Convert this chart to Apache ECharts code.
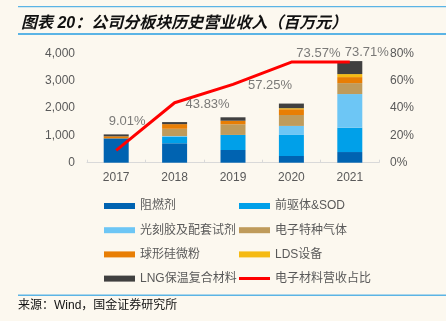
<!DOCTYPE html>
<html><head><meta charset="utf-8">
<script src="https://cdn.jsdelivr.net/npm/echarts@6/dist/echarts.min.js"></script>
<style>html,body{margin:0;padding:0;background:#FCF8EF;}#c{width:446px;height:321px;}</style>
</head><body><div id="c"></div>
<script>
const years = ['2017','2018','2019','2020','2021'];
const flameRetardant = [890, 710, 465, 245, 390];
const precursorSOD = [0, 245, 550, 770, 890];
const photoresist = [0, 20, 0, 330, 1230];
const specialGas = [0, 265, 390, 400, 400];
const silicaPowder = [75, 170, 130, 210, 220];
const ldsEquip = [0, 0, 0, 37, 110];
const lngMaterial = [70, 75, 125, 170, 475];
const electronicRatio = [9.01, 43.83, 57.25, 73.57, 73.71];
const leftTicks = [0, 1000, 2000, 3000, 4000];
const labelOffsets = [[11,-17],[33,13],[37,13],[27,3],[17,2]];

const font = '"Liberation Sans", Arial, "Noto Sans CJK SC", sans-serif';
const cjk = '"Liberation Sans", "Noto Sans CJK SC", sans-serif';
const gray = '#595959';

const barDefs = [
  ['阻燃剂', flameRetardant, '#0063B1'],
  ['前驱体&SOD', precursorSOD, '#00A0E9'],
  ['光刻胶及配套试剂', photoresist, '#6DC6F5'],
  ['电子特种气体', specialGas, '#BF9B5B'],
  ['球形硅微粉', silicaPowder, '#E87E04'],
  ['LDS设备', ldsEquip, '#F5BA14'],
  ['LNG保温复合材料', lngMaterial, '#404040']
];
const series = barDefs.map(d => ({
  name: d[0], type: 'bar', stack: 'rev', data: d[1], barWidth: 25,
  itemStyle: {color: d[2]}, yAxisIndex: 0
}));
series.push({
  name: '电子材料营收占比', type: 'line', yAxisIndex: 1, symbol: 'none',
  lineStyle: {color: '#FF0000', width: 3}, itemStyle: {color: '#FF0000'},
  data: electronicRatio, z: 10
});
series.push({
  name: 'ratioLabels', type: 'scatter', yAxisIndex: 1, symbolSize: 0.1,
  itemStyle: {color: 'rgba(0,0,0,0)'}, silent: true, z: 11,
  data: electronicRatio.map((v, i) => ({
    value: v,
    label: {show: true, position: 'top', offset: labelOffsets[i], distance: 5,
      formatter: v.toFixed(2) + '%', color: gray, fontSize: 13, fontFamily: font}
  }))
});

const legendText = {color: gray, fontSize: 12, fontFamily: cjk};
const chart = echarts.init(document.getElementById('c'));
chart.setOption({
  backgroundColor: '#FCF8EF',
  animation: false,
  title: {text: '图表 20：公司分板块历史营业收入（百万元）', left: 16, top: 11,
    textStyle: {fontSize: 16, fontStyle: 'italic', fontWeight: 'bold', color: '#111', fontFamily: cjk}},
  graphic: [
    {type: 'rect', shape: {x: 18, y: 6, width: 428, height: 1.2}, style: {fill: '#5BB4E5'}},
    {type: 'rect', shape: {x: 18, y: 33, width: 428, height: 2}, style: {fill: '#5BB4E5'}},
    {type: 'rect', shape: {x: 18, y: 294.5, width: 428, height: 1.5}, style: {fill: '#5BB4E5'}},
    {type: 'text', left: 18, top: 300, style: {text: '来源：Wind，国金证券研究所', fontSize: 12, fill: '#111', fontFamily: cjk}}
  ],
  legend: [
    {orient: 'vertical', left: 99, top: 195, itemWidth: 31, itemHeight: 6, itemGap: 12.2,
      textStyle: legendText, icon: 'rect',
      data: ['阻燃剂','光刻胶及配套试剂','球形硅微粉','LNG保温复合材料']},
    {orient: 'vertical', left: 234, top: 195, itemWidth: 31, itemHeight: 6, itemGap: 12.2,
      textStyle: legendText, icon: 'rect',
      data: ['前驱体&SOD','电子特种气体','LDS设备']},
    {orient: 'vertical', left: 234, top: 267.5, itemWidth: 31, itemHeight: 3,
      textStyle: legendText, icon: 'rect',
      data: ['电子材料营收占比']}
  ],
  grid: {left: 87, right: 67, top: 53.3, bottom: 158.3},
  xAxis: {type: 'category', data: years,
    axisLine: {lineStyle: {color: '#D9D9D9', width: 1}},
    axisTick: {show: true, inside: true, length: 3, lineStyle: {color: '#D9D9D9'}},
    axisLabel: {color: gray, fontSize: 12, fontFamily: font, margin: 9}},
  yAxis: [
    {type: 'value', min: leftTicks[0], max: leftTicks[leftTicks.length-1], interval: 1000,
      splitLine: {show: false}, axisLine: {show: false}, axisTick: {show: false},
      axisLabel: {color: gray, fontSize: 12, fontFamily: font, margin: 12,
        formatter: v => v.toLocaleString('en-US')}},
    {type: 'value', min: 0, max: 80, interval: 20,
      splitLine: {show: false}, axisLine: {show: false}, axisTick: {show: false},
      axisLabel: {color: gray, fontSize: 12, fontFamily: font, margin: 11, formatter: '{value}%'}}
  ],
  series: series
});
</script></body></html>
